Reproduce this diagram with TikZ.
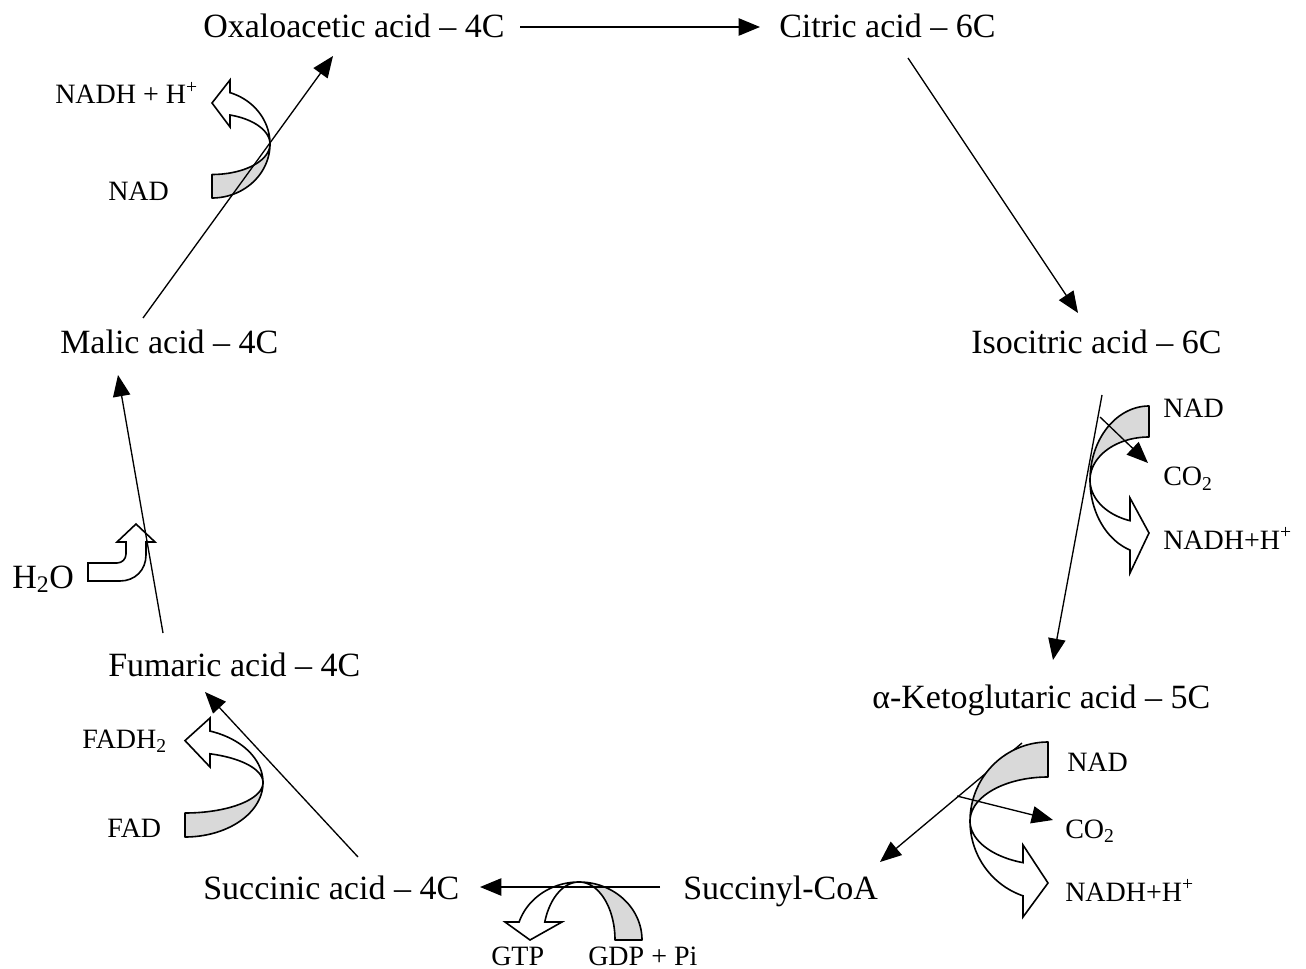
\documentclass[tikz,border=0pt]{standalone}
\usepackage{fontspec}
\setmainfont{Liberation Serif}
\usetikzlibrary{arrows.meta}
\definecolor{ribgray}{RGB}{217,217,217}
\tikzset{
  big/.style={font=\fontsize{25.5}{30}\selectfont, inner sep=0pt, anchor=base west},
  small/.style={font=\fontsize{21}{25}\selectfont, inner sep=0pt, anchor=base west},
  flow/.style={line width=1pt, -{Triangle[length=16pt,width=13pt]}},
  ribgrayfill/.style={fill=ribgray, draw=black, line width=1.2pt, line join=round},
  ribwhitefill/.style={fill=white, draw=black, line width=1.2pt, line join=miter},
}
% #1 transform, #2 rx, #3 ry outer, #4 ry inner, #5 head base u, #6 head far v, #7 head near v, #8 tip v
\newcommand{\ribbonarrow}[8]{%
  \begin{scope}[#1]
    \pgfmathsetmacro{\ribth}{acos(#5/#2)}
    \filldraw[ribgrayfill] (0,#4) -- (0,#3)
      -- plot[domain=90:0,samples=40] ({#2*cos(\x)},{#3*sin(\x)})
      -- plot[domain=0:90,samples=40] ({#2*cos(\x)},{#4*sin(\x)}) -- cycle;
    \filldraw[ribwhitefill] (#2,0)
      -- plot[domain=0:-\ribth,samples=40] ({#2*cos(\x)},{#3*sin(\x)})
      -- (#5,#6) -- (0,#8) -- (#5,#7)
      -- plot[domain=-\ribth:0,samples=40] ({#2*cos(\x)},{#4*sin(\x)}) -- cycle;
  \end{scope}}
\begin{document}
\begin{tikzpicture}[x=0.75pt,y=-0.75pt]
\useasboundingbox (0,0) rectangle (1306,969);

% main compounds
\node[big] (oxa) at (203,38) {Oxaloacetic acid – 4C};
\node[big] (cit) at (779,38) {Citric acid – 6C};
\node[big] (iso) at (971,354) {Isocitric acid – 6C};
\node[big] (keto) at (872,708) {α-Ketoglutaric acid – 5C};
\node[big] (sucoa) at (683,899) {Succinyl-CoA};
\node[big] (suc) at (203,899) {Succinic acid – 4C};
\node[big] (fum) at (108,676) {Fumaric acid – 4C};
\node[big] (mal) at (60,354) {Malic acid – 4C};
\node[big] (water) at (12,588) {H\textsubscript{2}O};

% cofactors
\node[small] (nadh1) at (55,104) {NADH + H\textsuperscript{+}};
\node[small] (nad1) at (108,201) {NAD};
\node[small] (nad2) at (1163,418) {NAD};
\node[small] (co2a) at (1163,486) {CO\textsubscript{2}};
\node[small] (nadh2) at (1163,549) {NADH+H\textsuperscript{+}};
\node[small] (nad3) at (1067,771) {NAD};
\node[small] (co2b) at (1065,838) {CO\textsubscript{2}};
\node[small] (nadh3) at (1065,901) {NADH+H\textsuperscript{+}};
\node[small] (gtp) at (491,965) {GTP};
\node[small] (gdp) at (588,965) {GDP + Pi};
\node[small] (fadh) at (82,748) {FADH\textsubscript{2}};
\node[small] (fad) at (107,837) {FAD};

% connector end points
\coordinate (oxaE) at (520,27);
\coordinate (citW) at (760,27);
\coordinate (citS) at (908,58);
\coordinate (isoN) at (1078,313);
\coordinate (isoS) at (1102,395);
\coordinate (ketoN) at (1053,660);
\coordinate (ketoS) at (1022,743);
\coordinate (sucoaN) at (880,862);
\coordinate (sucoaW) at (660,887);
\coordinate (sucE) at (480,887);
\coordinate (sucN) at (358,857);
\coordinate (fumS) at (205,692);
\coordinate (fumN) at (163,633);
\coordinate (malS) at (118,375);
\coordinate (malN) at (143,318);
\coordinate (oxaS) at (333,56);
\coordinate (co2aS) at (1100,417);
\coordinate (co2aE) at (1148,463);
\coordinate (co2bS) at (957,796);
\coordinate (co2bE) at (1053,820);

% line hidden behind the ribbon
\draw[flow] (ketoS) -- (sucoaN);

% ribbon arrows
\ribbonarrow{shift={(212,144)}}{58}{54}{30.5}{18}{-64}{-17}{-41}
\ribbonarrow{shift={(185,782.6)}}{78}{54.4}{30.4}{25}{-64.6}{-15.6}{-42}
\ribbonarrow{shift={(1149,480)},rotate=180}{59}{74}{43}{19}{-93}{-18}{-53}
\ribbonarrow{shift={(1048,821)},rotate=180}{78}{79}{44}{25}{-96}{-24}{-62}
\ribbonarrow{shift={(579,940)},rotate=90}{58}{63}{36}{18}{-74}{-17}{-49}

% bent water arrow
\filldraw[ribwhitefill] (88,563) -- (117,563) .. controls (122,563) and (126,559) .. (126,554)
  -- (126,542) -- (117,542) -- (136,524) -- (155,542) -- (146,542) -- (146,555)
  .. controls (146,570) and (135,581) .. (120,581) -- (88,581) -- cycle;

% cycle connectors
\draw[flow] (oxaE) -- (citW);
\draw[flow] (citS) -- (isoN);
\draw[flow] (isoS) -- (ketoN);
\draw[flow] (sucoaW) -- (sucE);
\draw[flow] (sucN) -- (fumS);
\draw[flow] (fumN) -- (malS);
\draw[flow] (malN) -- (oxaS);
\draw[flow] (co2aS) -- (co2aE);
\draw[flow] (co2bS) -- (co2bE);
\end{tikzpicture}
\end{document}
